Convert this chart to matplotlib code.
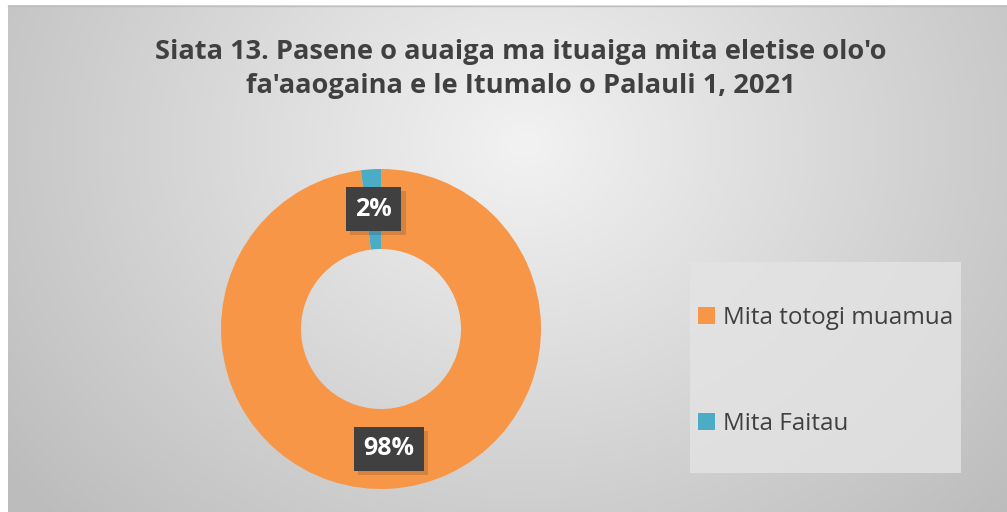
import numpy as np
import matplotlib
matplotlib.use('Agg')
from matplotlib import pyplot as plt
from matplotlib.patches import Rectangle, Patch
import matplotlib.patheffects as pe

# data
labels = ['Mita totogi muamua', 'Mita Faitau']
values = [98, 2]
colors = ['#F79646', '#4BACC6']
title = "Siata 13. Pasene o auaiga ma ituaiga mita eletise olo'o\nfa'aaogaina e le Itumalo o Palauli 1, 2021"

W, H = 1007, 512
fig = plt.figure(figsize=(W/100, H/100), dpi=100)
fig.patch.set_facecolor('white')

# background gradient (chart area)
bg = fig.add_axes([0, 0, 1, 1])
bg.set_xlim(0, W); bg.set_ylim(H, 0); bg.axis('off')
yy, xx = np.mgrid[0:H, 0:W]
d = np.sqrt(((xx-520)/620.0)**2 + ((yy-140)/520.0)**2)
g = np.clip(0.95 - 0.2*d, 0.74, 0.95)
bg.imshow(np.dstack([g, g, g]), extent=(8, W, H, 5), aspect='auto', zorder=0)
bg.plot([8, W], [5.5, 5.5], color='#bfbfbf', lw=1, zorder=1)

# legend box
bg.add_patch(Rectangle((690, 262), 271, 211, facecolor='#e4e4e4', edgecolor='none', zorder=1, alpha=0.8))

fig.text(0.517, 1-69/H, title, ha='center', va='center', fontsize=19.6, fontweight='bold',
         color='#404040', family='Open Sans', linespacing=1.42)

# donut
cx, cy, r = 381, 329, 160
ax = fig.add_axes([(cx-r)/W, (H-cy-r)/H, 2*r/W, 2*r/H])
wedges, _ = ax.pie(values, colors=colors, startangle=90, counterclock=False, radius=1,
                   wedgeprops=dict(width=0.5, edgecolor='none'))
ax.set_xlim(-1, 1); ax.set_ylim(-1, 1); ax.axis('off')

total = float(sum(values))
for w, v in zip(wedges, values):
    ang = np.deg2rad((w.theta1 + w.theta2)/2)
    x, y = 0.75*np.cos(ang), 0.75*np.sin(ang)
    txt = '%d%%' % round(100*v/total)
    t = ax.text(x, y, txt, ha='center', va='center', fontsize=18, fontweight='bold',
                color='white', family='Open Sans',
                bbox=dict(boxstyle='square,pad=0.38', facecolor='#404040', edgecolor='none'))
    t.get_bbox_patch().set_path_effects([pe.SimplePatchShadow(offset=(3, -3), alpha=0.15),
                                         pe.Normal()])

handles = [Patch(facecolor=c, edgecolor='none') for c in colors]
leg = fig.legend(handles, labels, loc='upper left', bbox_to_anchor=(676/W, 1-284/H),
                 frameon=False, labelspacing=3.38, handlelength=0.7, handleheight=0.7,
                 handletextpad=0.35, prop=dict(family='Open Sans', size=17.5))
for t in leg.get_texts():
    t.set_color('#404040')

fig.savefig('out.png', dpi=100, facecolor='white')
